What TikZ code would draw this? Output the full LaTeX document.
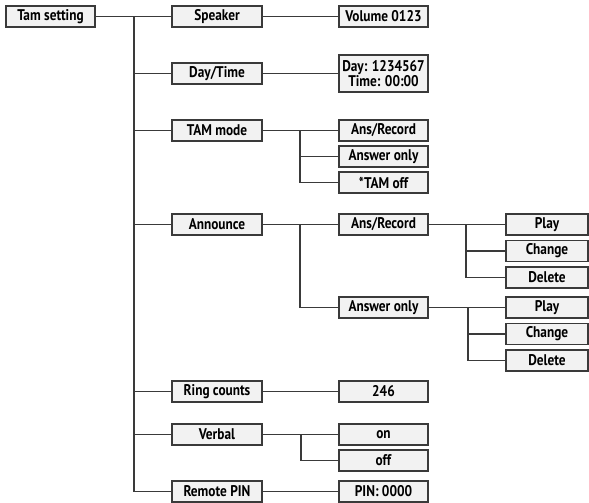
\documentclass[tikz,border=0pt]{standalone}
\usepackage{fontspec}
\setmainfont{PT Sans}[FakeStretch=0.86]
\usepackage{tikz}
\usetikzlibrary{positioning,calc}
\definecolor{boxfill}{HTML}{F2F2F2}
\definecolor{linegray}{HTML}{3A3A3A}

\begin{document}
\begin{tikzpicture}[x=0.75pt, y=-0.75pt,
  item/.style={rectangle, draw=linegray, fill=boxfill, line width=0.8pt, inner sep=0pt,
    minimum width=66.75pt, minimum height=15.75pt, align=center, font=\bfseries\fontsize{11.6}{11.4}\selectfont},
  menu/.style={item, minimum width=67.5pt},
  leaf/.style={item, minimum width=61.5pt},
  link/.style={draw=linegray, line width=0.8pt},
]
  \useasboundingbox (0,0) rectangle (589,503);

  % root
  \node[item] (tam) at (50.5,16.5) {Tam setting};

  % first level
  \node[menu] (speaker)  at (217,16.5)  {Speaker};
  \node[menu] (daytime)  at (217,73.5)  {Day/Time};
  \node[menu] (tammode)  at (217,130.5) {TAM mode};
  \node[menu] (announce) at (217,224.5) {Announce};
  \node[menu] (ring)     at (217,391.5) {Ring counts};
  \node[menu] (verbal)   at (217,434.5) {Verbal};
  \node[menu] (pin)      at (217,491.5) {Remote PIN};

  % second level
  \node[item] (volume)  at (383.5,16.5)  {Volume 0123};
  \node[item, minimum height=27.75pt] (dtval) at (383.5,73.5) {Day: 1234567\\Time: 00:00};
  \node[item] (tmrec)   at (383.5,130.5) {Ans/Record};
  \node[item] (tmans)   at (383.5,156.5) {Answer only};
  \node[item] (tmoff)   at (383.5,182.5) {*TAM off};
  \node[item] (anrec)   at (383.5,224.5) {Ans/Record};
  \node[item] (anans)   at (383.5,307.5) {Answer only};
  \node[item] (ringval) at (383.5,391.5) {246};
  \node[item] (von)     at (383.5,434.5) {on};
  \node[item] (voff)    at (383.5,460.5) {off};
  \node[item] (pinval)  at (383.5,491.5) {PIN: 0000};

  % third level
  \node[leaf] (recplay) at (547,224.5) {Play};
  \node[leaf] (recchg)  at (547,251)   {Change};
  \node[leaf] (recdel)  at (547,277.5) {Delete};
  \node[leaf] (ansplay) at (547,307.5) {Play};
  \node[leaf] (anschg)  at (547,334)   {Change};
  \node[leaf] (ansdel)  at (547,360.5) {Delete};

  % branch points
  \coordinate (trunk) at (134,16.5);
  \coordinate (tmfork) at (300,130.5);
  \coordinate (anfork) at (300,224.5);
  \coordinate (recfork) at (466,224.5);
  \coordinate (ansfork) at (468,307.5);
  \coordinate (vfork) at (301,434.5);

  \draw[link] (tam) -- (speaker);
  \foreach \n in {daytime,tammode,announce,ring,verbal,pin}
    \draw[link] (trunk) |- (\n.west);

  \draw[link] (speaker) -- (volume);
  \draw[link] (daytime) -- (dtval);
  \draw[link] (ring) -- (ringval);
  \draw[link] (pin) -- (pinval);

  \draw[link] (tammode) -- (tmrec);
  \draw[link] (tmfork) |- (tmans.west);
  \draw[link] (tmfork) |- (tmoff.west);

  \draw[link] (announce) -- (anrec);
  \draw[link] (anfork) |- (anans.west);

  \draw[link] (anrec) -- (recplay);
  \draw[link] (recfork) |- (recchg.west);
  \draw[link] (recfork) |- (recdel.west);

  \draw[link] (anans) -- (ansplay);
  \draw[link] (ansfork) |- (anschg.west);
  \draw[link] (ansfork) |- (ansdel.west);

  \draw[link] (verbal) -- (von);
  \draw[link] (vfork) |- (voff.west);
\end{tikzpicture}
\end{document}
